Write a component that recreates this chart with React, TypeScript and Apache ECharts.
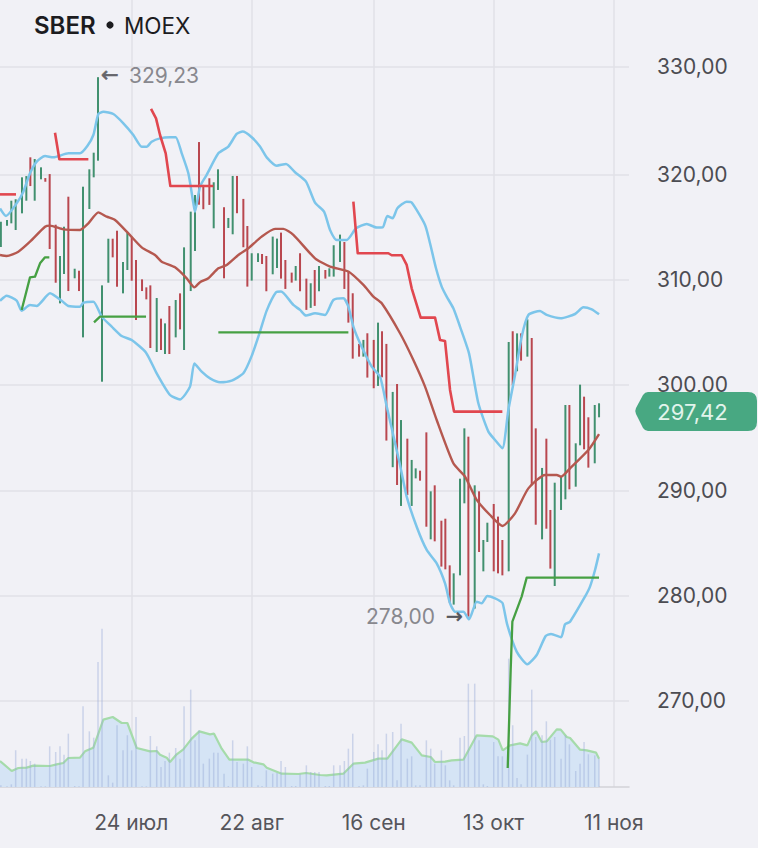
import React, { useEffect, useRef } from "react";
import * as echarts from "echarts";

// Session positions on the index axis (weekly gaps included)
const barPositions = [
  0.2, 1.63, 2.63, 3.64, 5.11, 6.12, 7.05, 8.06, 9.53, 10.53, 11.54, 12.94, 13.94, 14.87, 15.88, 17.35, 18.36, 19.29, 20.76, 21.77, 22.77, 23.7,
  25.17, 26.18, 27.19, 28.58, 29.59, 30.6, 31.6, 33.0, 34.0, 34.93, 36.41, 37.41, 38.34, 39.35, 40.82, 41.83, 42.76, 44.31, 45.31, 46.24,
  47.24, 48.64, 49.65, 50.65, 52.05, 53.05, 54.06, 55.07, 56.54, 57.47, 58.48, 59.95, 60.88, 61.88, 63.36, 64.36, 65.29, 66.3, 67.77, 68.7, 69.71,
  71.18, 72.19, 73.12, 74.12, 75.59, 76.52, 77.53, 79.0, 80.01, 80.94, 81.95, 83.42, 84.43, 85.35, 86.83, 87.83, 88.76, 89.77, 91.24, 92.25,
  93.17, 94.64, 95.65, 96.58, 97.59, 99.06, 100.07, 101.0, 102.55, 103.47, 104.48, 105.41, 106.88, 107.89, 108.82, 110.29, 111.3, 112.3, 113.23,
  114.71, 115.71, 116.72, 118.19, 119.12, 120.13, 121.06, 122.53, 123.54, 124.47, 125.94, 126.94, 127.87, 128.88, 130.35, 131.36, 132.29, 133.76,
  134.77, 135.7, 136.7, 138.18, 139.18,
];
const barHighs = [
  315.5, 315.66, 317.5, 317.63, 319.72, 319.84, 321.62, 321.46, 320.67, 319.65, 320.03, 315.22, 312.25, 315.03, 317.88, 311.04, 310.85, 318.83, 320.48, 322.06, 329.23, 309.46,
  313.89, 313.89, 314.65, 311.68, 314.46, 314.08, 311.87, 310.03, 309.27, 309.46, 308.26, 306.3, 305.85, 307.5, 308.07, 308.7, 313.07, 316.46, 318.04, 323.07,
  319.0, 319.63, 319.25, 320.48, 316.88, 315.86, 319.85, 319.85, 317.67, 315.1, 312.51, 312.51, 312.44, 312.25, 314.09, 313.9, 314.47, 311.87, 310.67, 311.3, 312.51,
  310.1, 309.66, 310.92, 311.3, 310.92, 311.08, 313.27, 314.28, 313.58, 310.8, 308.71, 303.9, 304.28, 304.91, 304.28, 305.92, 305.1, 303.9, 299.34, 300.09,
  296.67, 294.9, 292.88, 292.08, 291.86, 295.5, 289.9, 290.47, 287.11, 287.3, 282.87, 282.11, 291.1, 295.88, 295.09, 290.47, 289.9, 285.28, 286.92,
  288.7, 287.5, 285.28, 304.08, 305.09, 304.9, 304.9, 306.23, 304.46, 295.88, 292.12, 294.9, 288.13, 290.72, 291.29, 298.1, 298.1, 294.46,
  300.03, 298.89, 296.93, 298.1, 298.26,
];
const barLows = [
  313.1, 315.13, 315.35, 314.72, 316.3, 317.5, 318.89, 317.5, 319.53, 319.3, 312.91, 309.71, 307.75, 310.54, 308.92, 310.13, 308.92, 304.52, 316.71, 319.72, 321.3, 300.31,
  309.71, 312.12, 309.33, 308.7, 310.92, 309.9, 306.17, 308.92, 308.13, 303.51, 303.13, 303.32, 302.94, 302.94, 304.52, 305.28, 303.32, 308.92, 312.72, 317.12,
  316.69, 317.1, 314.88, 318.52, 310.13, 314.91, 314.31, 316.31, 313.08, 309.34, 309.91, 311.68, 311.49, 308.9, 310.51, 311.11, 310.1, 309.12, 309.72, 309.91, 308.9,
  307.13, 307.32, 307.51, 308.9, 310.1, 310.29, 310.29, 311.68, 309.12, 305.92, 302.5, 302.69, 302.69, 300.7, 299.69, 299.91, 300.73, 294.72, 292.19, 290.5,
  288.51, 289.55, 288.51, 291.13, 290.91, 286.54, 285.34, 285.15, 282.75, 282.49, 279.33, 279.14, 281.92, 288.76, 278.0, 278.76, 284.14, 282.3, 285.09,
  282.3, 282.11, 281.92, 282.3, 299.97, 301.3, 302.31, 302.69, 290.47, 286.73, 285.34, 286.35, 282.56, 280.91, 288.13, 289.14, 290.09, 290.34,
  294.27, 293.89, 292.15, 292.56, 296.93,
];
// 1 = rising session, 0 = falling session
const barRising = [
  1, 1, 1, 1, 1, 1, 0, 1, 1, 0, 0, 0, 1, 1, 0, 1, 0, 1, 1, 1, 1, 1,
  1, 0, 0, 1, 1, 0, 0, 0, 0, 0, 1, 0, 1, 0, 1, 0, 1, 1, 1, 0,
  0, 0, 1, 1, 0, 1, 1, 0, 0, 0, 1, 1, 0, 0, 1, 1, 0, 0, 0, 1, 0,
  0, 1, 0, 1, 0, 1, 1, 1, 0, 0, 0, 0, 1, 0, 0, 1, 0, 0, 1, 0,
  1, 0, 1, 1, 0, 0, 1, 0, 0, 0, 0, 1, 1, 1, 0, 1, 0, 1, 1,
  0, 0, 0, 1, 0, 1, 0, 1, 0, 0, 1, 0, 0, 1, 1, 1, 0, 1,
  1, 0, 0, 1, 1,
];
const barVolumes = [
  0.5, 0.2, 0.8, 11, 8.5, 8.5, 7.8, 7, 0.2, 0.2, 12.2, 10.5, 12.2, 9.7, 16, 0.3, 0.2, 24.2, 16.7, 14.8, 37.5, 47.5,
  3.5, 1.3, 18.5, 11, 15.5, 11, 21, 0.2, 0.2, 15.3, 12.2, 6, 7.8, 10.3, 11.7, 8.5, 24.2, 29.2, 14, 17,
  7, 8.5, 10.3, 10.3, 4, 0.3, 14, 7.5, 7, 12.2, 6, 0.5, 0.3, 5, 4, 4.2, 7.8, 6, 0.3, 0.3, 3.8,
  6.5, 4.5, 4.5, 4.5, 0.3, 0.3, 6.5, 6.5, 7.8, 11.5, 16, 0.3, 0.5, 5.5, 10.5, 12.8, 11, 16, 16.5, 2,
  19, 8.5, 9.2, 0.5, 0.5, 14, 11.5, 7, 11, 6.5, 2, 0.5, 14.8, 15.3, 31, 31, 14, 0.8, 0.3,
  13.5, 9.2, 9.2, 38.5, 18.5, 2.7, 0.8, 9.7, 29.2, 15, 15.5, 19.7, 14.2, 15, 8.5, 15.5, 12.8, 4.8,
  7, 13.5, 9.8, 9.5, 8.5,
];

const upperBand = [
  [0, 316.77], [1.39, 316.05], [3.87, 317.25], [5.42, 318.36], [6.97, 320.1], [8.52, 321.21], [10.46, 321.74], [12.39, 321.62], [15.88, 322], [18.59, 322], [20.29, 322.69], [21.69, 323.74], [22.85, 325.73], [24.01, 325.95], [26.34, 325.73], [28.66, 324.85], [30.98, 323.74], [32.92, 322.63], [34.08, 322.63], [35.24, 323.1], [37.18, 323.42], [39.5, 323.52], [40.82, 323.52], [42.22, 322], [43.76, 320.1], [44.93, 317.25], [45.31, 316.46],
  [46.47, 318.84], [48.02, 319.95], [50.73, 322], [53.05, 322.64], [54.99, 323.84], [56.38, 324.06], [58.48, 323.52], [60.41, 322.64], [61.96, 321.62], [64.29, 320.83], [66.45, 320.99], [68.55, 320.2], [71.1, 319.31], [73.19, 317.32], [75.29, 316.46], [76.68, 314.72], [78.23, 313.77], [80.55, 313.77], [82.72, 314.88], [85.2, 315.29], [87.52, 314.95], [88.91, 314.97], [89.99, 316.05], [91.23, 315.83], [92.32, 316.78], [94.49, 317.41], [95.65, 317.32], [98.75, 315.2], [99.91, 313.46], [101.3, 311.08], [102.62, 309.34], [103.78, 308.39], [105.33, 307.28], [106.88, 305.54], [108.97, 303], [111.14, 298.26], [113.47, 295.57], [115.02, 294.77], [116.72, 293.98], [118.11, 297.62], [119.66, 300.95], [121.21, 304.59], [122.76, 306.65], [125.47, 307.03], [127.02, 306.65], [130.27, 306.33], [133.61, 306.74], [135.54, 307.37], [137.48, 307.18], [139.18, 306.71],
];
const lowerBand = [
  [0, 308], [1.55, 308.48], [3.87, 308], [5.03, 307.06], [6.97, 307.59], [8.52, 307.5], [11.62, 308.7], [14.33, 308], [15.88, 307.5], [18.59, 307.43], [19.36, 307.81], [21.69, 307.91], [23.63, 306.49], [25.95, 305.54], [28.27, 304.65], [30.6, 304.27], [33.93, 303.07], [36.41, 301.1], [39.5, 299.05], [41.83, 298.63], [44.15, 299.84], [45.16, 302.05], [46.86, 301.26], [48.8, 300.63], [51.12, 300.26], [53.83, 300.42], [56.54, 301.11], [58.48, 302.76], [60.41, 305.07], [61.96, 307.06], [64.13, 308.8], [65.29, 308.87], [68.16, 307.6], [69.71, 307.13], [71.1, 306.59], [73.19, 306.81], [75.52, 306.65], [77.45, 308.07], [79.78, 308.23], [80.94, 307.44], [82.1, 305.54], [83.65, 303.96], [86.36, 301.74], [88.3, 300.79], [89.85, 297.95], [92.94, 292.4], [94.49, 289.39], [96.81, 286.54], [99.14, 284.33], [101.46, 283.06], [103.4, 281.16], [104.56, 279.26], [105.72, 278.47], [107.66, 278.47], [108.97, 277.74], [110.76, 279.42], [111.92, 279.26], [113.23, 279.96], [115.02, 279.74], [116.17, 279.49], [116.79, 279.27], [117.87, 277.21], [120.04, 274.68], [122.52, 273.47], [124.69, 274.36], [126.78, 276.16], [128.02, 276.35], [130.34, 276.04], [131.27, 277.27], [132.44, 277.52], [135.92, 279.9], [137.08, 280.85], [138.25, 282.43], [139.18, 284.01],
];
const middleBand = [
  [0, 312.34], [1.55, 312.25], [4.26, 312.66], [6.97, 313.61], [10.46, 315.03], [11.62, 315.13], [14.72, 314.78], [18.59, 314.72], [20.53, 315.35], [22.85, 316.39], [24.79, 315.98], [26.72, 315.67], [29.82, 314.4], [32.92, 313.07], [36.02, 312.34], [37.57, 311.71], [40.67, 311.17], [43.38, 310.13], [45.16, 309.27], [46.47, 309.76], [48.41, 310.13], [50.73, 311.08], [52.67, 311.4], [55.38, 312.35], [57.7, 312.98], [60.8, 314.09], [63.9, 314.82], [65.83, 314.82], [68.16, 314.25], [73.19, 312.03], [76.68, 311.24], [80.94, 310.77], [84.43, 309.5], [86.75, 308.39], [88.69, 307.76], [92.94, 304.91], [96.04, 302.37], [98.75, 299.84], [101.46, 296.67], [105.33, 292.56], [108.04, 291.29], [110.76, 289.08], [113.85, 287.65], [116.72, 286.61], [119.66, 287.81], [122.76, 290.18], [126.64, 291.45], [129.35, 291.45], [130.35, 291.29], [132.44, 292.08], [136.7, 293.82], [139.18, 295.34],
];

const resistanceSegments = [
  [[0, 318.1], [3.72, 318.1]],
  [[12.78, 323.96], [13.79, 321.43], [20.53, 321.43]],
  [[35.09, 326.21], [36.25, 325.32], [37.18, 323.74], [38.5, 322], [39.58, 318.89], [49.57, 318.89]],
  [[82.1, 317.41], [83.11, 312.51], [90.23, 312.51], [91.01, 312.32], [93.33, 312.32], [94.49, 311.4], [95.65, 309.18], [97.74, 306.4], [101.07, 306.4], [102.23, 304.28], [103.39, 304.18], [104.56, 299.53], [105.49, 297.47], [116.72, 297.47]],
];
const supportSegments = [
  [[5.03, 307.12], [6.97, 310.22], [8.13, 310.28], [9.3, 311.55], [10.46, 312.12], [11.46, 312.12]],
  [[21.84, 305.95], [23.24, 306.49], [33.93, 306.49]],
  [[50.73, 305], [80.94, 305]],
  [[117.96, 263.63], [118.65, 272.93], [119.04, 277.52], [121.2, 279.9], [122.37, 281.7], [139.18, 281.7]],
];

const volumeAverage = [
  [0, 7.8], [2.71, 4.8], [4.26, 5.7], [6.2, 5.8], [7.75, 6.4], [11.62, 6.3], [13.17, 6.8], [14.72, 7.2], [15.88, 8.7], [18.59, 8.8], [19.75, 10.7], [21.69, 11.8], [24.01, 20.2], [26.18, 21], [28.27, 19.2], [29.59, 19.2], [31.76, 11.7], [34.86, 10.7], [36.41, 10.8], [37.18, 9.7], [38.73, 8.8], [39.5, 7.5], [41.05, 9.8], [42.6, 11.3], [44.54, 14.5], [46.32, 16.7], [48.8, 15.8], [49.73, 16], [51.51, 11.5], [53.29, 8.2], [57.71, 8.2], [58.87, 7.4], [61.19, 6.8], [61.97, 5.8], [65.45, 4], [69.33, 3.9], [71.11, 4.2], [74.36, 3.6], [75.9, 3.5], [79.78, 4], [82.1, 7], [84.81, 7.3], [87.91, 8.5], [90, 8.5], [93.33, 14.3], [95.65, 13.3], [97.98, 9.5], [100.07, 9], [101.08, 7.5], [103.4, 7.6], [104.95, 8], [107.66, 8.2], [110.76, 15.5], [114.48, 15.2], [115.79, 14.2], [116.8, 11], [118.51, 12.5], [120.83, 13.1], [122.53, 12.5], [123.54, 15.5], [124.55, 16.7], [125.86, 13.5], [127.03, 13.7], [129.35, 17.3], [130.28, 17.2], [131.67, 15], [132.45, 14.7], [134.77, 11.2], [136.32, 11], [138.49, 10.3], [139.19, 8.5],
];

const dateTicks = [30.51, 58.48, 86.83, 114.66, 142.59];
const dateLabels = ["24 июл", "22 авг", "16 сен", "13 окт", "11 ноя"];
const priceTicks = [270, 280, 290, 300, 310, 320, 330.23];
const lastPrice = "297,42";
const highLabel = "329,23";
const lowLabel = "278,00";

const FONT = "Inter, 'Noto Sans', sans-serif";
const TAG_PATH =
  "M648 392 L748 392 Q757 392 757 401 L757 422 Q757 431 748 431 L648 431 Q645 431 643 428 L636 414 Q634.5 411 636 408 L643 395 Q645 392 648 392 Z";
echarts.graphic.registerShape("priceTag", echarts.graphic.extendPath(TAG_PATH, {}));

export default function App() {
  const ref = useRef<HTMLDivElement>(null);
  useEffect(() => {
    if (!ref.current) return;
    document.body.style.margin = "0";
    document.body.style.background = "#f1f1f6";
    const chart = echarts.init(ref.current, undefined, { renderer: "svg" });

    const priceData = barPositions.map((x, i) => [x, barLows[i], barHighs[i], barRising[i]]);
    const volumeData = barPositions.map((x, i) => [x, barVolumes[i]]);

    const lineSeries = (data: number[][], color: string, width: number, z: number, smooth = 0) => ({
      type: "line",
      data,
      symbol: "none",
      silent: true,
      smooth,
      lineStyle: { color, width, join: "round" },
      z,
    });

    chart.setOption({
      animation: false,
      backgroundColor: "#f1f1f6",
      graphic: [
        { type: "text", z: 50, x: 34, y: 25, style: { text: "SBER", fontFamily: FONT, fontSize: 24, fontWeight: 600, fill: "#1c1c1f", verticalAlign: "middle" } },
        { type: "circle", z: 50, shape: { cx: 110, cy: 25, r: 3.6 }, style: { fill: "#1c1c1f" } },
        { type: "text", z: 50, x: 124, y: 25, style: { text: "MOEX", fontFamily: FONT, fontSize: 22.5, fontWeight: 400, fill: "#1c1c1f", verticalAlign: "middle" } },
        { type: "text", z: 50, x: 101, y: 75, style: { text: "←", fontFamily: "'DejaVu Sans'", fontSize: 21, fill: "#66666c", stroke: "#66666c", lineWidth: 0.6, verticalAlign: "middle" } },
        { type: "text", z: 50, x: 129, y: 75.5, style: { text: highLabel, fontFamily: FONT, fontSize: 21, fill: "#88888e", verticalAlign: "middle" } },
        { type: "text", z: 50, x: 366, y: 616.5, style: { text: lowLabel, fontFamily: FONT, fontSize: 21, fill: "#88888e", verticalAlign: "middle" } },
        { type: "text", z: 50, x: 446, y: 616, style: { text: "→", fontFamily: "'DejaVu Sans'", fontSize: 20, fill: "#55555b", stroke: "#55555b", lineWidth: 0.6, verticalAlign: "middle" } },
        { type: "priceTag", z: 60, x: 0, y: 0, style: { fill: "#48a882" } },
        { type: "text", z: 61, x: 692.5, y: 412, style: { text: lastPrice, fontFamily: FONT, fontSize: 22, fill: "#e2f4ec", align: "center", verticalAlign: "middle" } },
      ],
      grid: { left: 0, right: 129, top: 0, bottom: 61 },
      xAxis: {
        type: "value",
        min: 0,
        max: 146.14,
        axisLine: { show: true, lineStyle: { color: "#d2d2d8", width: 1.5 } },
        axisTick: { show: false, customValues: dateTicks },
        splitLine: { show: true, lineStyle: { color: "#e1e1e7", width: 1.5 } },
        axisLabel: {
          customValues: dateTicks,
          margin: 25,
          fontFamily: FONT,
          fontSize: 21,
          color: "#55555b",
          formatter: (v: number) => {
            const i = dateTicks.findIndex((t) => Math.abs(t - v) < 0.5);
            return i >= 0 ? dateLabels[i] : "";
          },
        },
      },
      yAxis: [
        {
          type: "value",
          position: "right",
          min: 261.82,
          max: 336.56,
          axisLine: { show: false },
          axisTick: { show: false, customValues: priceTicks },
          splitLine: { show: true, lineStyle: { color: "#e1e1e7", width: 1.5 } },
          axisLabel: {
            customValues: priceTicks,
            margin: 28,
            fontFamily: FONT,
            fontSize: 21,
            color: "#4c4c52",
            formatter: (v: number) => (Math.round(v / 10) * 10).toFixed(2).replace(".", ","),
          },
        },
        { type: "value", min: 0, max: 236.1, show: false },
      ],
      series: [
        {
          type: "line",
          yAxisIndex: 1,
          data: volumeAverage,
          symbol: "none",
          silent: true,
          lineStyle: { color: "#a5dbaa", width: 2.2 },
          areaStyle: { color: "#d5e4f5", opacity: 1 },
          z: 2,
        },
        {
          type: "custom",
          yAxisIndex: 1,
          data: volumeData,
          encode: { x: 0, y: 1 },
          silent: true,
          z: 3,
          renderItem: (_: unknown, api: any) => {
            const top = api.coord([api.value(0), api.value(1)]);
            const base = api.coord([api.value(0), 0]);
            return {
              type: "rect",
              shape: { x: top[0] - 0.75, y: top[1], width: 1.5, height: base[1] - top[1] },
              style: { fill: "rgba(150,170,215,0.42)" },
            };
          },
        },
        {
          type: "custom",
          data: priceData,
          encode: { x: 0, y: [1, 2] },
          silent: true,
          z: 4,
          renderItem: (_: unknown, api: any) => {
            const high = api.coord([api.value(0), api.value(2)]);
            const low = api.coord([api.value(0), api.value(1)]);
            return {
              type: "rect",
              shape: { x: high[0] - 1, y: high[1], width: 2, height: low[1] - high[1] },
              style: { fill: api.value(3) ? "#41906f" : "#b9474f" },
            };
          },
        },
        lineSeries(upperBand, "#7cc5ea", 2.5, 5, 0.2),
        lineSeries(lowerBand, "#7cc5ea", 2.5, 5, 0.2),
        lineSeries(middleBand, "#b5584f", 2.4, 6, 0.2),
        ...resistanceSegments.map((s) => lineSeries(s, "#e1474f", 2.6, 6)),
        ...supportSegments.map((s) => lineSeries(s, "#46a043", 2.3, 6)),
      ],
    });
    return () => chart.dispose();
  }, []);
  return <div ref={ref} style={{ position: "absolute", left: 0, top: 0, width: 758, height: 848 }} />;
}
